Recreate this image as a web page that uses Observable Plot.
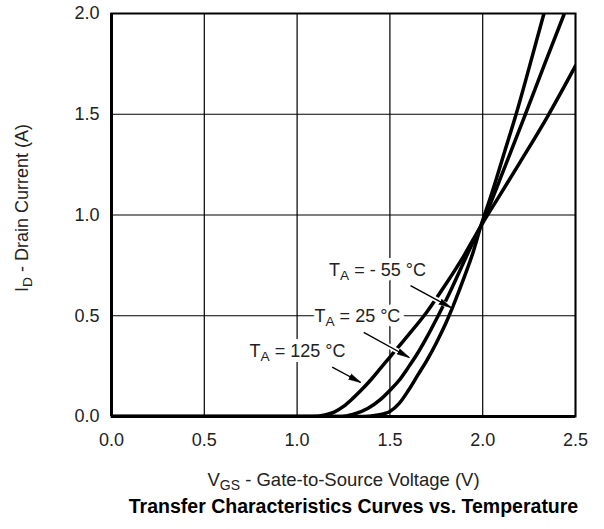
<!DOCTYPE html>
<html><head><meta charset="utf-8">
<script src="https://cdn.jsdelivr.net/npm/d3@7"></script>
<script src="https://cdn.jsdelivr.net/npm/@observablehq/plot@0.6"></script>
<style>body{margin:0;background:#fff;}</style>
</head><body><div id="chart"></div>
<script>
// Tick values
const xTicks = [0, 0.5, 1.0, 1.5, 2.0, 2.5];
const yTicks = [0, 0.5, 1.0, 1.5, 2.0];

// Series: T_A = -55 °C
const vgsM55 = [0, 1.36, 1.42, 1.47, 1.50, 1.55, 1.60, 1.65, 1.70, 1.75, 1.80, 1.85, 1.90, 1.95, 1.99, 2.05, 2.12, 2.18, 2.25, 2.33];
const idM55  = [0, 0,    0.005, 0.014, 0.025, 0.065, 0.13, 0.205, 0.28, 0.365, 0.46, 0.57, 0.69, 0.82, 0.945, 1.11, 1.32, 1.50, 1.73, 2.0];
// Series: T_A = 25 °C
const vgs25 = [0, 1.24, 1.30, 1.38, 1.45, 1.50, 1.55, 1.60, 1.65, 1.70, 1.76, 1.82, 1.88, 1.94, 1.99, 2.12, 2.23, 2.33, 2.44];
const id25  = [0, 0,    0.01, 0.04, 0.085, 0.13, 0.18, 0.245, 0.315, 0.395, 0.50, 0.61, 0.73, 0.85, 0.945, 1.24, 1.50, 1.74, 2.0];
// Series: T_A = 125 °C
const vgs125 = [0, 1.08, 1.15, 1.20, 1.25, 1.30, 1.35, 1.40, 1.45, 1.50, 1.60, 1.70, 1.80, 1.90, 1.99, 2.10, 2.20, 2.35, 2.50];
const id125  = [0, 0,    0.008, 0.022, 0.05, 0.09, 0.135, 0.185, 0.24, 0.295, 0.405, 0.52, 0.655, 0.80, 0.945, 1.11, 1.26, 1.49, 1.74];

const seriesNames = ["-55", "25", "125"];

// Annotations
const labelText = ["T_{A} = - 55 °C", "T_{A} = 25 °C", "T_{A} = 125 °C"];
const labelX = [1.433, 1.325, 1.002];
const labelY = [0.725, 0.496, 0.323];
const arrowX1 = [1.611, 1.359, 1.189];
const arrowY1 = [0.650, 0.418, 0.245];
const arrowX2 = [1.827, 1.602, 1.341];
const arrowY2 = [0.542, 0.294, 0.170];

const xTitle = "V_{GS} - Gate-to-Source Voltage (V)";
const yTitle = "I_{D} - Drain Current (A)";
const chartTitle = "Transfer Characteristics Curves vs. Temperature";

// Build tables
const seriesX = [vgsM55, vgs25, vgs125];
const seriesY = [idM55, id25, id125];
const rows = [];
seriesNames.forEach((name, k) => seriesX[k].forEach((x, i) => rows.push({temp: name, x, y: seriesY[k][i]})));
const labels = labelText.map((t, i) => ({t, x: labelX[i], y: labelY[i]}));
const arrows = arrowX1.map((_, i) => ({x1: arrowX1[i], y1: arrowY1[i], x2: arrowX2[i], y2: arrowY2[i]}));

const fmt = d3.format(".1f");
const plot = Plot.plot({
  width: 604, height: 529,
  marginLeft: 111, marginRight: 29, marginTop: 13, marginBottom: 113,
  style: {fontFamily: "'Liberation Sans', Arial, Helvetica, sans-serif", fontSize: "18px", color: "black", background: "white"},
  x: {domain: [0, 2.5]},
  y: {domain: [0, 2]},
  marks: [
    Plot.gridX(xTicks, {stroke: "black", strokeOpacity: 1, strokeWidth: 1.2}),
    Plot.gridY(yTicks, {stroke: "black", strokeOpacity: 1, strokeWidth: 1.2}),
    Plot.text(labels, {x: "x", y: "y", text: "t", fill: "#222", stroke: "white", strokeWidth: 10, strokeLinejoin: "round", fontSize: 18}),
    Plot.line(rows, {x: "x", y: "y", z: "temp", stroke: "black", strokeWidth: 3.5, curve: "monotone-x", clip: true}),
    Plot.link(arrows, {x1: "x1", y1: "y1", x2: "x2", y2: "y2", stroke: "white", strokeWidth: 5}),
    Plot.link(arrows, {x1: "x1", y1: "y1", x2: "x2", y2: "y2", stroke: "black", strokeWidth: 1.4, markerEnd: "arrow"}),
    Plot.frame({stroke: "black", strokeWidth: 2}),
    Plot.ruleX([0], {stroke: "black", strokeWidth: 3}),
    Plot.ruleY([0], {stroke: "black", strokeWidth: 3}),
    Plot.axisX(xTicks, {tickSize: 0, tickPadding: 17, tickFormat: fmt, label: null, fill: "#222", fontSize: 18}),
    Plot.axisY(yTicks, {tickSize: 0, tickPadding: 12, tickFormat: fmt, label: null, fill: "#222", fontSize: 18}),
    Plot.text([xTitle], {frameAnchor: "bottom", dy: 69, text: d => d, fill: "#222", fontSize: 18.5}),
    Plot.text([chartTitle], {frameAnchor: "bottom", dy: 96, dx: 10, text: d => d, fill: "black", fontWeight: "bold", fontSize: 19.5}),
    Plot.text([yTitle], {frameAnchor: "left", textAnchor: "middle", rotate: -90, dx: -89, dy: -7, text: d => d, fill: "#222", fontSize: 18})
  ]
});
document.getElementById("chart").appendChild(plot);

// Subscripts: turn "_{..}" into real subscript tspans
const ns = "http://www.w3.org/2000/svg";
plot.querySelectorAll("text").forEach(t => {
  const s = t.textContent;
  if (!s.includes("_{")) return;
  t.textContent = "";
  const parts = s.split(/_\{(.*?)\}/);
  parts.forEach((p, i) => {
    if (!p) return;
    const ts = document.createElementNS(ns, "tspan");
    ts.textContent = p;
    if (i % 2 === 1) { ts.setAttribute("font-size", "0.76em"); ts.setAttribute("dy", "4"); }
    else if (i > 0) { ts.setAttribute("dy", "-4"); }
    t.appendChild(ts);
  });
});

// Filled arrowheads
plot.querySelectorAll("marker").forEach(m => {
  m.setAttribute("viewBox", "-12 -4 13 8");
  m.setAttribute("markerUnits", "userSpaceOnUse");
  m.setAttribute("markerWidth", "13");
  m.setAttribute("markerHeight", "8");
  m.setAttribute("fill", "black");
  m.setAttribute("stroke", "black");
  m.setAttribute("stroke-width", "0.5");
  const p = m.querySelector("path");
  if (p) p.setAttribute("d", "M-12,-3L1,0L-12,3Z");
});
</script>
</body></html>
